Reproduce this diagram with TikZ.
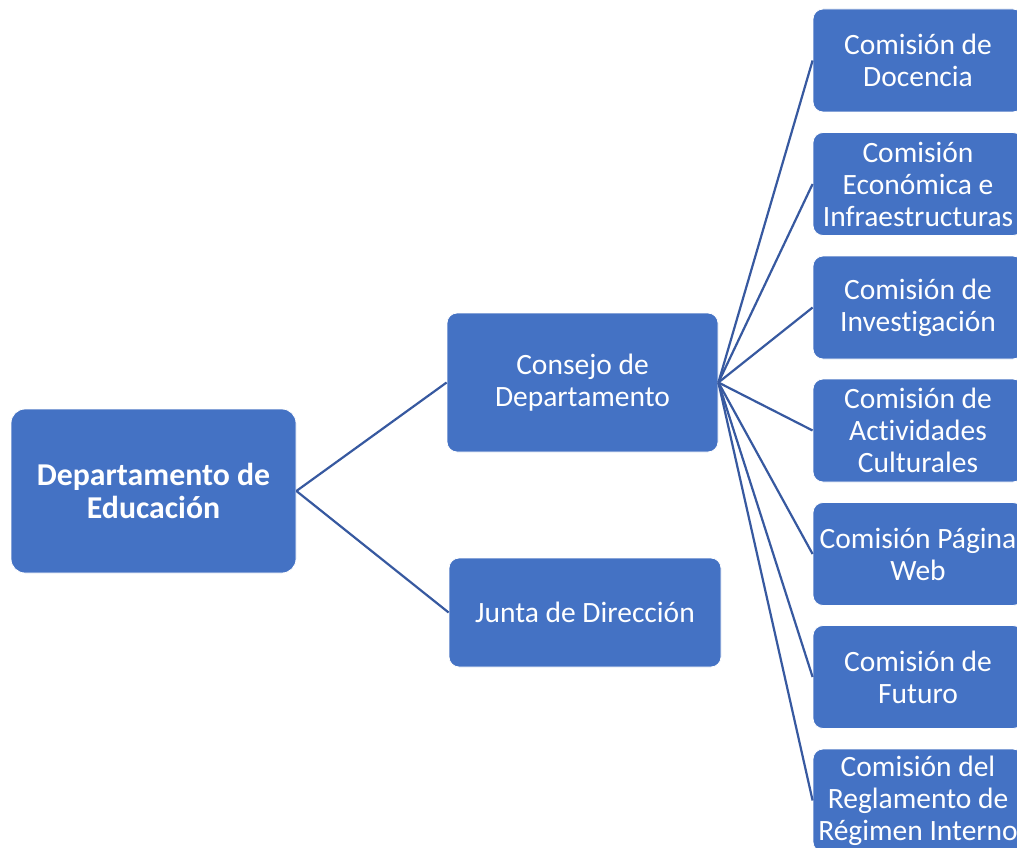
\documentclass[tikz,border=0pt]{standalone}
\usepackage{fontspec}
\setmainfont{Carlito}[Ligatures={NoCommon}]
\definecolor{boxblue}{HTML}{4472C4}
\definecolor{lineblue}{HTML}{3759A0}
\begin{document}
\begin{tikzpicture}[x=1pt,y=-1pt,
  box/.style={draw=white, line width=0.8pt, fill=boxblue, rounded corners=10pt, text=white, align=center, inner sep=0pt,
    font=\fontsize{29.5}{32}\selectfont},
  rootbox/.style={box, rounded corners=14pt, font=\fontsize{31.8}{33}\selectfont\bfseries},
  comm/.style={box, minimum width=210pt, minimum height=103pt},
  link/.style={draw=lineblue, line width=2.2pt}]
\useasboundingbox (0,0) rectangle (1017,848);
\clip (0,0) rectangle (1017,848);
\fill[white] (0,0) rectangle (1017,848);
\node[rootbox, minimum width=285pt, minimum height=164pt] (root) at (153.5,491) {Departamento de\\Educación};
\node[box, minimum width=271pt, minimum height=139pt] (consejo) at (582.5,382.5) {Consejo de\\Departamento};
\node[box, minimum width=272pt, minimum height=109pt] (junta) at (585,612.5) {Junta de Dirección};
\node[comm] (c1) at (918,60.5) {Comisión de\\Docencia};
\node[comm] (c2) at (918,184) {Comisión\\Económica e\\Infraestructuras};
\node[comm] (c3) at (918,307.5) {Comisión de\\Investigación};
\node[comm] (c4) at (918,430.5) {Comisión de\\Actividades\\Culturales};
\node[comm] (c5) at (918,554) {Comisión Página\\Web};
\node[comm] (c6) at (918,677) {Comisión de\\Futuro};
\node[comm] (c7) at (918,800.5) {Comisión del\\Reglamento de\\Régimen Interno};
\draw[link] (root.east) -- (consejo.west);
\draw[link] (root.east) -- (junta.west);
\foreach \c in {c1,c2,c3,c4,c5,c6,c7}{
  \draw[link] (consejo.east) -- (\c.west);
}
\end{tikzpicture}
\end{document}
